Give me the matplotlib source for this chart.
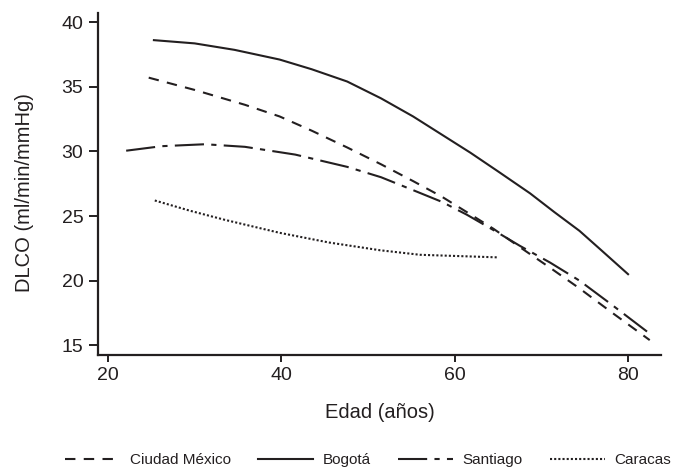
import matplotlib
matplotlib.use("Agg")
import matplotlib.pyplot as plt

# values
mexico_age = [24.7, 30, 35.8, 39.8, 43.5, 47.6, 51.5, 55.2, 58.5, 61.4, 64.5, 67.5, 71, 74.4, 78, 82.5]
mexico_dlco = [35.7, 34.75, 33.6, 32.7, 31.6, 30.3, 29.0, 27.7, 26.5, 25.3, 24.0, 22.6, 21.0, 19.4, 17.6, 15.4]

bogota_age = [25.3, 30, 34.6, 39.8, 43.5, 47.6, 51.5, 55.2, 58.5, 61.8, 65, 68.7, 71.5, 74.4, 77, 80]
bogota_dlco = [38.6, 38.35, 37.85, 37.1, 36.35, 35.4, 34.1, 32.7, 31.3, 29.9, 28.45, 26.75, 25.3, 23.85, 22.3, 20.5]

santiago_age = [22.1, 26.2, 31.2, 35.8, 41.6, 47.6, 51.5, 55.2, 58.5, 61.4, 64.5, 67.5, 71, 74.4, 78, 82.7]
santiago_dlco = [30.05, 30.4, 30.55, 30.35, 29.75, 28.8, 28.0, 27.0, 26.1, 25.1, 23.9, 22.7, 21.4, 20.0, 18.2, 15.8]

caracas_age = [25.4, 29.5, 33.5, 39.8, 45.5, 51.4, 56, 65]
caracas_dlco = [26.2, 25.4, 24.7, 23.7, 22.95, 22.35, 22.0, 21.8]

x_ticks = [20, 40, 60, 80]
y_ticks = [15, 20, 25, 30, 35, 40]

plt.rcParams['font.family'] = ['Liberation Sans', 'DejaVu Sans']
ink = '#231f20'

fig = plt.figure(figsize=(6.89, 4.70), dpi=100)
ax = fig.add_axes([98 / 689, 1 - 355 / 470, (661 - 98) / 689, (355 - 13) / 470])

ax.plot(mexico_age, mexico_dlco, color=ink, lw=1.5, ls=(0, (5, 4)), label='Ciudad México')
ax.plot(bogota_age, bogota_dlco, color=ink, lw=1.5, ls='-', label='Bogotá')
ax.plot(santiago_age, santiago_dlco, color=ink, lw=1.5, ls=(0, (14, 3.5, 2.5, 3.5)), label='Santiago')
ax.plot(caracas_age, caracas_dlco, color=ink, lw=1.5, ls=(0, (1, 1)), label='Caracas')

ax.set_xlim(18.85, 83.8)
ax.set_ylim(14.25, 40.7)
ax.set_xticks(x_ticks)
ax.set_yticks(y_ticks)

for side in ['top', 'right']:
    ax.spines[side].set_visible(False)
for side in ['left', 'bottom']:
    ax.spines[side].set_linewidth(1.6)
    ax.spines[side].set_color(ink)

ax.tick_params(axis='both', colors=ink, labelsize=14, width=1.4)
ax.tick_params(axis='y', length=6.5, pad=4)
ax.tick_params(axis='x', length=5, pad=4)

ax.set_xlabel('Edad (años)', fontsize=14.5, color=ink)
ax.set_ylabel('DLCO (ml/min/mmHg)', fontsize=14.5, color=ink)
ax.xaxis.set_label_coords(0.5, -0.14)
ax.yaxis.set_label_coords(-0.114, 0.475)

fig.legend(loc='center', bbox_to_anchor=(368 / 689, 1 - 460 / 470), ncol=4,
           frameon=False, fontsize=11, handlelength=3.6, handletextpad=0.6,
           columnspacing=1.8, labelcolor=ink)

fig.savefig('out.png', dpi=100)
